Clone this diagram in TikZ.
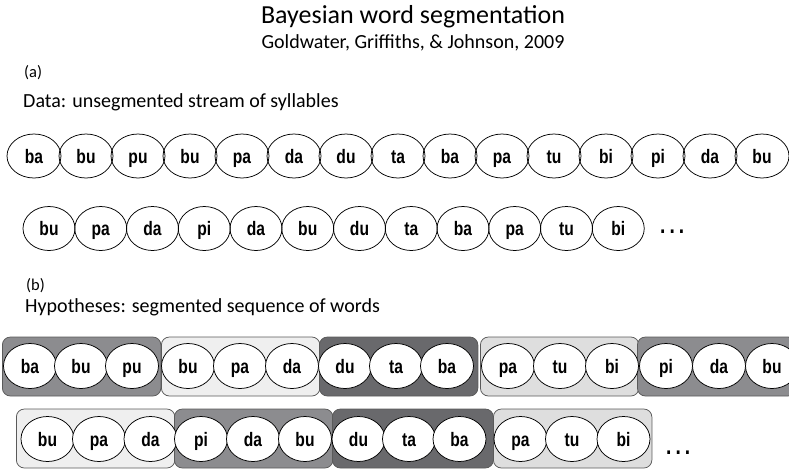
\documentclass[tikz,border=0pt]{standalone}
\usepackage{fontspec}
\setmainfont{Carlito}
\newfontfamily\sylfont[FakeStretch=0.8]{Liberation Sans}
\usetikzlibrary{shapes.geometric}
\definecolor{medgray}{HTML}{8C8C8F}
\definecolor{darkgray}{HTML}{69696C}
\definecolor{lightA}{HTML}{EFEFEF}
\definecolor{lightB}{HTML}{DEDEDE}
\definecolor{boxline}{HTML}{5A5A5A}
\tikzset{
  syl/.style={ellipse, draw=black, line width=0.75pt, inner sep=0pt,
    minimum width=53pt, minimum height=44pt, text height=14pt, text depth=0pt,
    font=\sylfont\bfseries\fontsize{19.5}{19.5}\selectfont},
  sylw/.style={syl, fill=white, minimum height=45pt},
  wordbox/.style={rectangle, rounded corners=8pt, draw=boxline, line width=0.75pt,
    minimum width=158.5pt, minimum height=59pt, inner sep=0pt, anchor=west},
  lbl/.style={inner sep=0pt, anchor=base west, font=\fontsize{20}{20}\selectfont},
  tag/.style={inner sep=0pt, anchor=base west, font=\fontsize{16.5}{16.5}\selectfont},
  dots/.style={inner sep=0pt, anchor=base west, font=\sylfont\bfseries\fontsize{24}{24}\selectfont}
}
\begin{document}
\begin{tikzpicture}[x=1pt,y=-1pt]
\useasboundingbox (0,0) rectangle (789,469);
% titles
\node[inner sep=0pt, anchor=base, font=\fontsize{26}{26}\selectfont] (title) at (413,23) {Bayesian word segmentation};
\node[inner sep=0pt, anchor=base, font=\fontsize{20}{20}\selectfont] (subtitle) at (413,48) {Goldwater, Griffiths, \& Johnson, 2009};
\node[tag] (taga) at (24,77) {(a)};
\node[lbl] (data) at (23,107) {Data: unsegmented stream of syllables};
% row 1
\foreach \s [count=\i from 0] in {ba,bu,pu,bu,pa,da,du,ta,ba,pa,tu,bi,pi,da,bu}
  \node[syl, minimum width=54pt] (ra-\i) at ({34+52*\i},156) {\s};
% row 2
\foreach \s [count=\i from 0] in {bu,pa,da,pi,da,bu,du,ta,ba,pa,tu,bi}
  \node[syl, minimum width=52pt] (rb-\i) at ({49+51.75*\i},228.5) {\s};
\node[dots] (dotsa) at (660,233) {.\kern4pt.\kern4pt.};
% (b)
\node[tag] (tagb) at (26,290) {(b)};
\node[lbl] (hyp) at (25,312) {Hypotheses: segmented sequence of words};
% row 3 boxes
\node[wordbox, fill=medgray]  (wa-1) at (2,366.5) {};
\node[wordbox, fill=lightA]   (wa-2) at (161,366.5) {};
\node[wordbox, fill=darkgray] (wa-3) at (319,366.5) {};
\node[wordbox, fill=lightB]   (wa-4) at (480,366.5) {};
\node[wordbox, fill=medgray]  (wa-5) at (637,366.5) {};
% row 3 syllables
\foreach \s [count=\i from 0] in {ba,bu,pu} \node[sylw] (sa-1-\i) at ({30+51*\i},366) {\s};
\foreach \s [count=\i from 0] in {bu,pa,da} \node[sylw] (sa-2-\i) at ({188+52*\i},366) {\s};
\foreach \s [count=\i from 0] in {du,ta,ba} \node[sylw] (sa-3-\i) at ({345+51*\i},366) {\s};
\foreach \s [count=\i from 0] in {pa,tu,bi} \node[sylw] (sa-4-\i) at ({508+52*\i},366) {\s};
\foreach \s [count=\i from 0] in {pi,da,bu} \node[sylw] (sa-5-\i) at ({666+53*\i},366) {\s};
% row 4 boxes
\node[wordbox, fill=lightA]   (wb-1) at (16,438.5) {};
\node[wordbox, fill=medgray]  (wb-2) at (174,438.5) {};
\node[wordbox, fill=darkgray, minimum width=161pt] (wb-3) at (332,438.5) {};
\node[wordbox, fill=lightB]   (wb-4) at (493,438.5) {};
% row 4 syllables
\foreach \s [count=\i from 0] in {bu,pa,da} \node[sylw] (sb-1-\i) at ({47.5+51.5*\i},439) {\s};
\foreach \s [count=\i from 0] in {pi,da,bu} \node[sylw] (sb-2-\i) at ({201+52*\i},439) {\s};
\foreach \s [count=\i from 0] in {du,ta,ba} \node[sylw] (sb-3-\i) at ({358.5+50.5*\i},439) {\s};
\foreach \s [count=\i from 0] in {pa,tu,bi} \node[sylw] (sb-4-\i) at ({520.5+51.5*\i},439) {\s};
\node[dots] (dotsb) at (666,454) {.\kern4pt.\kern4pt.};
\end{tikzpicture}
\end{document}
